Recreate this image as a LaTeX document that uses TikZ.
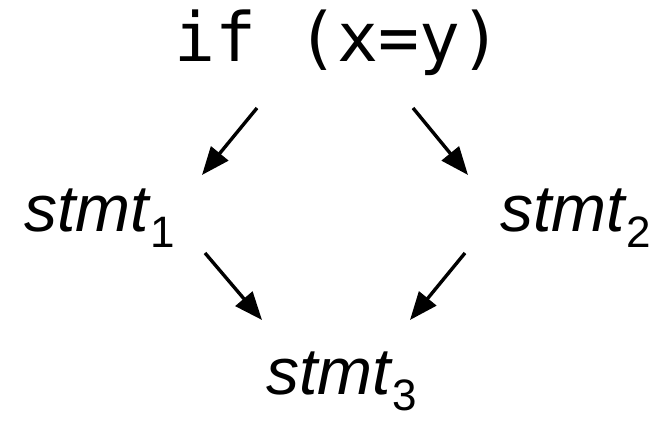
\documentclass[tikz,border=0pt]{standalone}
\usepackage{fontspec}
\setmainfont{Liberation Sans}
\newfontfamily\monofont{DejaVu Sans Mono}
\usetikzlibrary{arrows.meta}
\newcommand{\stm}[1]{\fontsize{66}{66}\selectfont\itshape stmt\kern2pt\raisebox{-16pt}{\fontsize{44}{44}\selectfont\upshape #1}}
\tikzset{
  lbl/.style={inner sep=0pt, outer sep=0pt, anchor=base west},
  arr/.style={line width=3.4pt, -{Triangle[length=28pt,width=22pt]}}
}
\begin{document}
\begin{tikzpicture}[x=1pt,y=1pt]
\useasboundingbox (0,0) rectangle (670,422);
\node[inner sep=0pt, anchor=base] (if) at (338,360) {\monofont\fontsize{68}{68}\selectfont if (x=y)};
\node[lbl] (s1) at (24,190) {\stm{1}};
\node[lbl] (s2) at (500,190) {\stm{2}};
\node[lbl] (s3) at (266,27) {\stm{3}};
\coordinate (a1s) at (257,314);
\coordinate (a1e) at (202,247);
\coordinate (a2s) at (413,314);
\coordinate (a2e) at (468,247);
\coordinate (a3s) at (205,169);
\coordinate (a3e) at (262,102);
\coordinate (a4s) at (465,169);
\coordinate (a4e) at (410,102);
\draw[arr] (a1s) -- (a1e);
\draw[arr] (a2s) -- (a2e);
\draw[arr] (a3s) -- (a3e);
\draw[arr] (a4s) -- (a4e);
\end{tikzpicture}
\end{document}
